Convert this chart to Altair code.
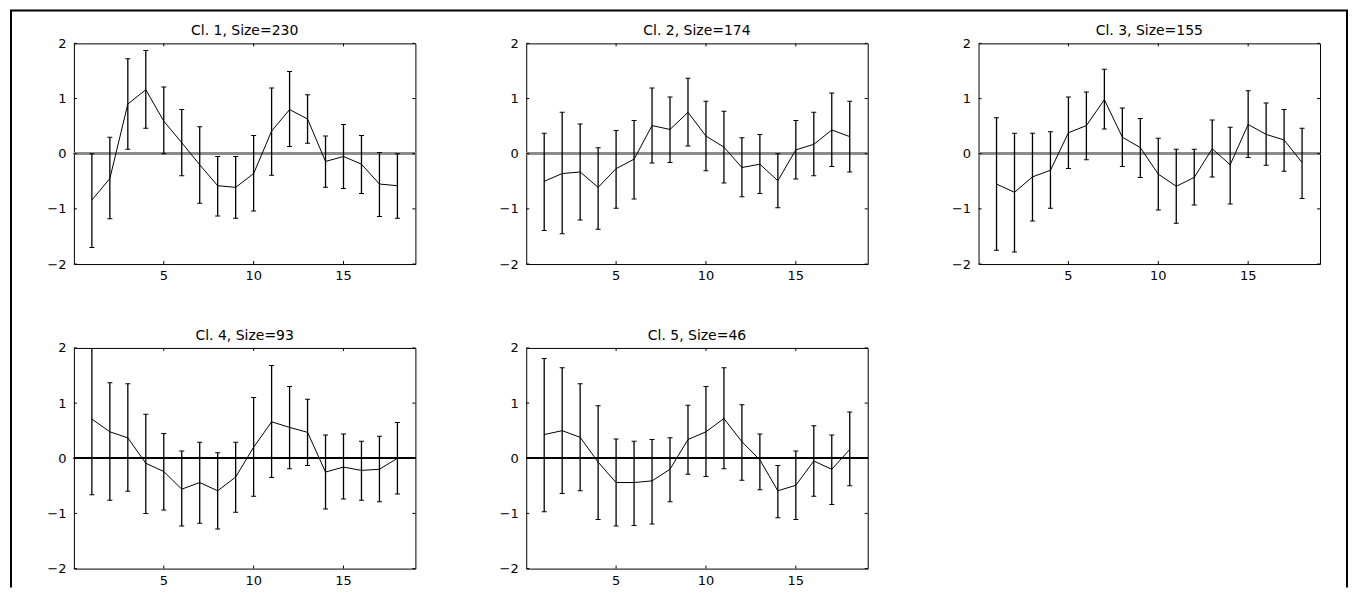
import altair as alt
import pandas as pd

# ---------------- data ----------------
x_pos = list(range(1, 19))
titles = ["Cl. 1, Size=230", "Cl. 2, Size=174", "Cl. 3, Size=155",
          "Cl. 4, Size=93", "Cl. 5, Size=46"]

mean1 = [-0.84, -0.45, 0.90, 1.16, 0.59, 0.20, -0.20, -0.58, -0.61, -0.36, 0.41, 0.80, 0.63, -0.14, -0.05, -0.19, -0.55, -0.58]
hi1 = [0.00, 0.30, 1.72, 1.87, 1.21, 0.80, 0.49, -0.05, -0.05, 0.33, 1.19, 1.49, 1.07, 0.32, 0.53, 0.33, 0.02, 0.00]
lo1 = [-1.70, -1.18, 0.08, 0.46, 0.00, -0.40, -0.90, -1.13, -1.17, -1.04, -0.39, 0.13, 0.19, -0.61, -0.63, -0.72, -1.14, -1.17]

mean2 = [-0.50, -0.36, -0.33, -0.61, -0.27, -0.10, 0.51, 0.44, 0.75, 0.32, 0.12, -0.25, -0.19, -0.49, 0.07, 0.17, 0.43, 0.31]
hi2 = [0.37, 0.75, 0.54, 0.11, 0.42, 0.60, 1.19, 1.03, 1.37, 0.95, 0.77, 0.29, 0.35, 0.00, 0.60, 0.75, 1.10, 0.95]
lo2 = [-1.39, -1.45, -1.20, -1.37, -0.99, -0.82, -0.17, -0.16, 0.14, -0.31, -0.53, -0.78, -0.72, -0.98, -0.46, -0.40, -0.23, -0.33]

mean3 = [-0.55, -0.70, -0.42, -0.30, 0.38, 0.51, 0.98, 0.30, 0.11, -0.37, -0.59, -0.43, 0.09, -0.20, 0.53, 0.35, 0.25, -0.16]
hi3 = [0.65, 0.37, 0.37, 0.40, 1.03, 1.12, 1.53, 0.83, 0.64, 0.28, 0.08, 0.08, 0.61, 0.48, 1.14, 0.92, 0.80, 0.46]
lo3 = [-1.75, -1.78, -1.22, -0.99, -0.27, -0.11, 0.45, -0.23, -0.43, -1.02, -1.26, -0.93, -0.42, -0.91, -0.07, -0.21, -0.32, -0.81]

mean4 = [0.71, 0.48, 0.37, -0.09, -0.24, -0.56, -0.44, -0.59, -0.34, 0.20, 0.66, 0.56, 0.47, -0.25, -0.16, -0.22, -0.20, 0.00]
hi4 = [2.10, 1.37, 1.35, 0.80, 0.45, 0.13, 0.29, 0.10, 0.29, 1.10, 1.68, 1.30, 1.07, 0.42, 0.44, 0.31, 0.40, 0.65]
lo4 = [-0.66, -0.76, -0.60, -1.00, -0.94, -1.23, -1.18, -1.28, -0.98, -0.69, -0.35, -0.19, -0.13, -0.92, -0.74, -0.76, -0.79, -0.65]

mean5 = [0.43, 0.50, 0.38, -0.07, -0.44, -0.44, -0.41, -0.20, 0.34, 0.48, 0.72, 0.30, -0.03, -0.59, -0.49, -0.05, -0.20, 0.16]
hi5 = [1.81, 1.64, 1.35, 0.95, 0.35, 0.31, 0.34, 0.37, 0.96, 1.30, 1.64, 0.97, 0.44, -0.13, 0.13, 0.59, 0.42, 0.84]
lo5 = [-0.97, -0.64, -0.59, -1.11, -1.23, -1.22, -1.19, -0.79, -0.29, -0.33, -0.19, -0.40, -0.57, -1.08, -1.11, -0.69, -0.84, -0.50]

x_ticks = [5, 10, 15]
y_ticks = [-2, -1, 0, 1, 2]
x_domain = [0, 19]
y_domain = [-2, 2]

means = [mean1, mean2, mean3, mean4, mean5]
his = [hi1, hi2, hi3, hi4, hi5]
los = [lo1, lo2, lo3, lo4, lo5]
zero_colors = ["#8c8c8c", "#8c8c8c", "#8c8c8c", "black", "black"]
zero_widths = [2, 2, 2, 1, 1]

# ---------------- layout ----------------
W, H = 342, 221
COLSP, ROWSP = 111, 84
FONT = "DejaVu Sans"
FS = 13

xscale = alt.Scale(domain=x_domain, nice=False, zero=False)
yscale = alt.Scale(domain=y_domain, nice=False, zero=False)
yaxis = alt.Axis(values=y_ticks, title=None, grid=False, ticks=False, tickSize=0,
                 domain=False, labelPadding=8, labelFont=FONT, labelFontSize=FS,
                 labelColor="black", labelFlush=False)


def X(f):
    return alt.X(f, type="quantitative", scale=xscale, axis=None)


def Y(f):
    return alt.Y(f, type="quantitative", scale=yscale, axis=yaxis)


def panel(i):
    df = pd.DataFrame({"x": x_pos, "m": means[i], "lo": los[i], "hi": his[i]})
    base = alt.Chart(df)
    xt = alt.Chart(pd.DataFrame({"t": x_ticks}))
    yt = alt.Chart(pd.DataFrame({"t": y_ticks}))

    zero = base.mark_rule(color=zero_colors[i], strokeWidth=zero_widths[i]).encode(
        y=alt.Y(datum=0, type="quantitative", scale=yscale, axis=yaxis),
        x=alt.value(0), x2=alt.value(W))
    bars = base.mark_rule(color="black", strokeWidth=1.3, clip=True).encode(
        x=X("x"), y=Y("lo"), y2="hi")
    cap_lo = base.mark_tick(color="black", orient="horizontal", size=5, thickness=1,
                            clip=True, opacity=1).encode(x=X("x"), y=Y("lo"))
    cap_hi = base.mark_tick(color="black", orient="horizontal", size=5, thickness=1,
                            clip=True, opacity=1).encode(x=X("x"), y=Y("hi"))
    line = base.mark_line(color="black", strokeWidth=1, clip=True).encode(
        x=X("x"), y=Y("m"))

    # inward ticks on all four sides, x tick labels below the box
    tb = xt.mark_rule(color="black", strokeWidth=1).encode(
        x=X("t"), y=alt.value(H), y2=alt.value(H - 3))
    tt = xt.mark_rule(color="black", strokeWidth=1).encode(
        x=X("t"), y=alt.value(0), y2=alt.value(3))
    tl = yt.mark_rule(color="black", strokeWidth=1).encode(
        y=Y("t"), x=alt.value(0), x2=alt.value(3))
    tr = yt.mark_rule(color="black", strokeWidth=1).encode(
        y=Y("t"), x=alt.value(W), x2=alt.value(W - 3))
    xlab = xt.mark_text(font=FONT, fontSize=FS, color="black", align="center",
                        baseline="top").encode(
        x=X("t"), y=alt.value(H + 6), text=alt.Text("t:Q"))

    return alt.layer(zero, bars, cap_lo, cap_hi, line, tb, tt, tl, tr, xlab).properties(
        width=W, height=H,
        title=alt.Title(titles[i], font=FONT, fontSize=14, fontWeight="normal",
                        color="black", anchor="middle", baseline="alphabetic",
                        offset=-12, frame="group"))


# empty sixth grid cell carrying the outer figure frame
# (offsets are relative to this cell's origin: column 3, row 2)
cx = 2 * (W + COLSP)
cy = H + ROWSP
fL, fT, fR, fB = -63 - cx, -33 - cy, 1275 - cx, 545 - cy
one = alt.Chart(pd.DataFrame({"a": [0]}))
fstyle = dict(color="black", strokeWidth=2, strokeCap="butt")
frame = alt.layer(
    one.mark_rule(**fstyle).encode(x=alt.value(fL), y=alt.value(fT), y2=alt.value(fB)),
    one.mark_rule(**fstyle).encode(x=alt.value(fL - 1), x2=alt.value(fR + 1), y=alt.value(fT)),
    one.mark_rule(**fstyle).encode(x=alt.value(fR), y=alt.value(fT), y2=alt.value(fB)),
).properties(width=W, height=H, view=alt.ViewBackground(stroke="transparent"))

chart = alt.concat(
    panel(0), panel(1), panel(2), panel(3), panel(4), frame,
    columns=3, spacing={"row": ROWSP, "column": COLSP}, bounds="flush"
).properties(
    padding=0,
    background="white",
).configure_view(stroke="black", strokeWidth=1)

chart.save("out.html", embed_options={"renderer": "svg", "actions": False})
